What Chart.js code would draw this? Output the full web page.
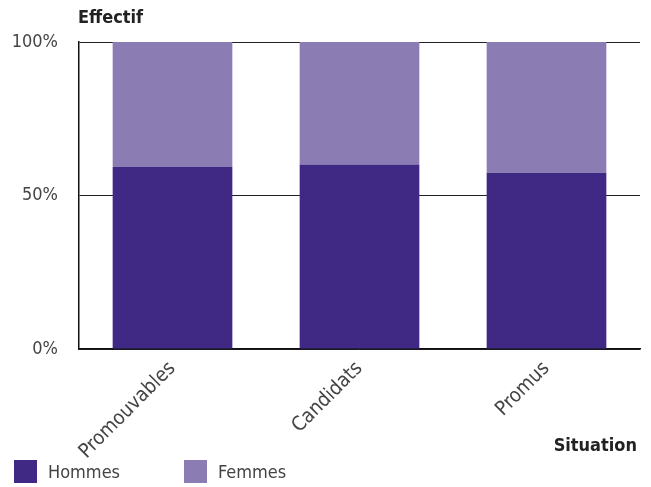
<!DOCTYPE html>
<html>
<head>
<meta charset="utf-8">
<script src="https://cdn.jsdelivr.net/npm/chart.js@4"></script>
<style>
  html, body { margin: 0; padding: 0; background: #fff; }
  #wrap { position: relative; width: 651px; height: 487px; font-family: "DejaVu Sans Condensed", "Roboto", sans-serif; }
  #chart { position: absolute; left: 0; top: 0; }
  .title { position: absolute; font-weight: bold; font-size: 18px; color: #222; }
  .legend { position: absolute; top: 460px; display: flex; align-items: center; font-size: 18px; color: #444; }
  .legend span.box { display: inline-block; width: 23px; height: 23px; margin-right: 11px; }
</style>
</head>
<body>
<div id="wrap">
  <canvas id="chart" width="651" height="487"></canvas>
  <div class="title" style="left:78px; top:6px;">Effectif</div>
  <div class="title" style="right:14px; top:434px;">Situation</div>
  <div class="legend" style="left:14px;"><span class="box" style="background:#402985"></span>Hommes</div>
  <div class="legend" style="left:184px;"><span class="box" style="background:#8b7db3"></span>Femmes</div>
</div>
<script>
// Données (part en %)
const CATEGORIES = ["Promouvables", "Candidats", "Promus"];
const HOMMES = [59.3, 60.1, 57.4];
const FEMMES = [40.7, 39.9, 42.6];
const Y_TICKS = [0, 50, 100];

const FONT = "'DejaVu Sans Condensed', Roboto, sans-serif";

new Chart(document.getElementById("chart"), {
  type: "bar",
  data: {
    labels: CATEGORIES,
    datasets: [
      { label: "Hommes", data: HOMMES, backgroundColor: "#402985" },
      { label: "Femmes", data: FEMMES, backgroundColor: "#8b7db3" }
    ]
  },
  options: {
    responsive: false,
    animation: false,
    layout: { padding: { left: 0, right: 11, top: 42, bottom: 0 } },
    plugins: { legend: { display: false }, tooltip: { enabled: false } },
    datasets: { bar: { barPercentage: 0.64, categoryPercentage: 1 } },
    scales: {
      x: {
        stacked: true,
        grid: { display: false },
        border: { display: true, color: "#111", width: 1.5 },
        ticks: {
          minRotation: 45, maxRotation: 45, padding: 0,
          color: "#444", font: { family: FONT, size: 20 }
        },
        afterFit: s => { s.height = 138; }
      },
      y: {
        stacked: true,
        min: 0, max: 100,
        afterBuildTicks: s => { s.ticks = Y_TICKS.map(v => ({ value: v })); },
        grid: { color: "#222", lineWidth: 1, drawTicks: false },
        border: { display: true, color: "#111", width: 1.5 },
        ticks: {
          padding: 21, color: "#444", font: { family: FONT, size: 18 },
          callback: v => v + "%"
        },
        afterFit: s => { s.width = 79; }
      }
    }
  }
});
</script>
</body>
</html>
